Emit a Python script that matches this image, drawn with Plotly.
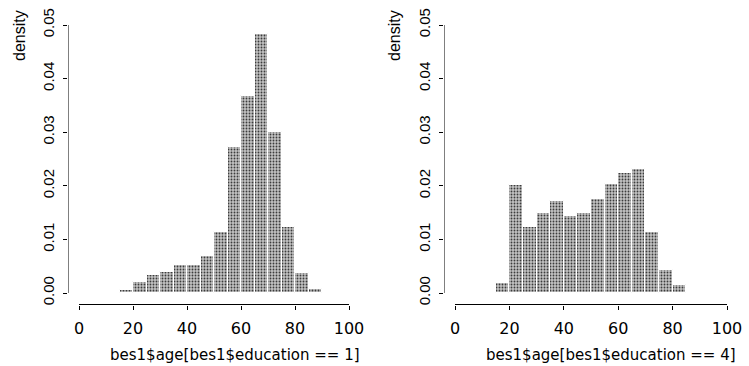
import plotly.graph_objects as go

# Histogram bins (left edges, width 5) and densities
edu1_bin_starts = [15, 20, 25, 30, 35, 40, 45, 50, 55, 60, 65, 70, 75, 80, 85]
edu1_density = [0.0006, 0.0020, 0.0034, 0.0039, 0.0053, 0.0053, 0.0069, 0.0113,
                0.0272, 0.0367, 0.0484, 0.0300, 0.0123, 0.0037, 0.0007]

edu4_bin_starts = [15, 20, 25, 30, 35, 40, 45, 50, 55, 60, 65, 70, 75, 80]
edu4_density = [0.0019, 0.0201, 0.0124, 0.0150, 0.0171, 0.0144, 0.0149, 0.0176,
                0.0204, 0.0224, 0.0231, 0.0113, 0.0042, 0.0015]

bin_width = 5
x_ticks = [0, 20, 40, 60, 80, 100]
y_ticks = [0.00, 0.01, 0.02, 0.03, 0.04, 0.05]
y_tick_text = ["0.00", "0.01", "0.02", "0.03", "0.04", "0.05"]
x_titles = ["bes1$age[bes1$education == 1]", "bes1$age[bes1$education == 4]"]
y_title = "density"

SANS = "Liberation Sans, Arial, sans-serif"
WIDE = "DejaVu Sans, Liberation Sans, sans-serif"
W, H = 749, 366

fig = go.Figure()

bar_style = dict(
    width=bin_width,
    marker=dict(
        color="#a8a8a8",
        line=dict(color="white", width=1),
        pattern=dict(shape=".", fgcolor="#3c3c3c", bgcolor="#c2c2c2",
                     size=3, solidity=0.3),
    ),
    showlegend=False,
    hoverinfo="skip",
)

for i, (starts, dens) in enumerate([(edu1_bin_starts, edu1_density),
                                     (edu4_bin_starts, edu4_density)]):
    centers = [s + bin_width / 2 for s in starts]
    fig.add_trace(go.Bar(x=centers, y=dens, xaxis="x" if i == 0 else "x2",
                         yaxis="y" if i == 0 else "y2", **bar_style))

# pixel geometry of the two panels
panels = [
    dict(left=68, x0px=79, x100px=349, xlab_right=362, ylab_x=19),
    dict(left=444, x0px=455, x100px=727, xlab_right=738, ylab_x=394),
]
top_px, bottom_px, y0_px = 25, 305, 293
ppu_y = (y0_px - top_px) / 0.05
ymin = -(bottom_px - y0_px) / ppu_y

layout = dict(
    template="none",
    width=W, height=H,
    margin=dict(l=0, r=0, t=0, b=0, pad=0),
    paper_bgcolor="white", plot_bgcolor="white",
    bargap=0,
    font=dict(family=SANS, size=16, color="black"),
)

xranges = []
for i, p in enumerate(panels):
    ppu_x = (p["x100px"] - p["x0px"]) / 100
    xmin = -(p["x0px"] - p["left"]) / ppu_x
    right_px = p["x100px"] + 4
    xmax = 100 + 4 / ppu_x
    xranges.append([xmin, xmax])
    xa = "xaxis" if i == 0 else "xaxis2"
    ya = "yaxis" if i == 0 else "yaxis2"
    layout[xa] = dict(
        domain=[p["left"] / W, right_px / W], range=[xmin, xmax],
        tickvals=x_ticks, ticks="outside", ticklen=4, tickwidth=1,
        tickcolor="black", showline=False, showgrid=False, zeroline=False,
        automargin=False,
        tickfont=dict(family=WIDE, size=16), ticklabelstandoff=5,
        anchor="y" if i == 0 else "y2",
    )
    layout[ya] = dict(
        domain=[(H - bottom_px) / H, (H - top_px) / H], range=[ymin, 0.05],
        tickvals=y_ticks, ticktext=y_tick_text, tickangle=-90,
        ticks="outside", ticklen=4, tickwidth=1, tickcolor="black",
        showline=False, showgrid=False, zeroline=False, automargin=False,
        tickfont=dict(family=SANS, size=15), ticklabelstandoff=3,
        anchor="x" if i == 0 else "x2",
    )

fig.update_layout(**layout)

shapes = []
annotations = []
for i, p in enumerate(panels):
    xr = "x" if i == 0 else "x2"
    yr = "y" if i == 0 else "y2"
    # x axis line 0..100 at plot bottom
    shapes.append(dict(type="line", xref=xr, yref=yr, x0=0, x1=100,
                       y0=ymin, y1=ymin, line=dict(color="black", width=2)))
    # y axis line 0..0.05 at plot left
    shapes.append(dict(type="line", xref=xr, yref=yr, x0=xranges[i][0],
                       x1=xranges[i][0], y0=0, y1=0.05,
                       line=dict(color="black", width=1)))
    # x title
    annotations.append(dict(text=x_titles[i], xref="paper", yref="paper",
                            x=p["xlab_right"] / W, y=(H - 355) / H,
                            xanchor="right", yanchor="middle", showarrow=False,
                            font=dict(family=WIDE, size=15)))
    # y title
    annotations.append(dict(text=y_title, xref="paper", yref="paper",
                            x=p["ylab_x"] / W, y=(H - 36) / H,
                            xanchor="center", yanchor="middle", textangle=-90,
                            showarrow=False, font=dict(family=SANS, size=16)))

fig.update_layout(shapes=shapes, annotations=annotations)

fig.write_html("out.html")
